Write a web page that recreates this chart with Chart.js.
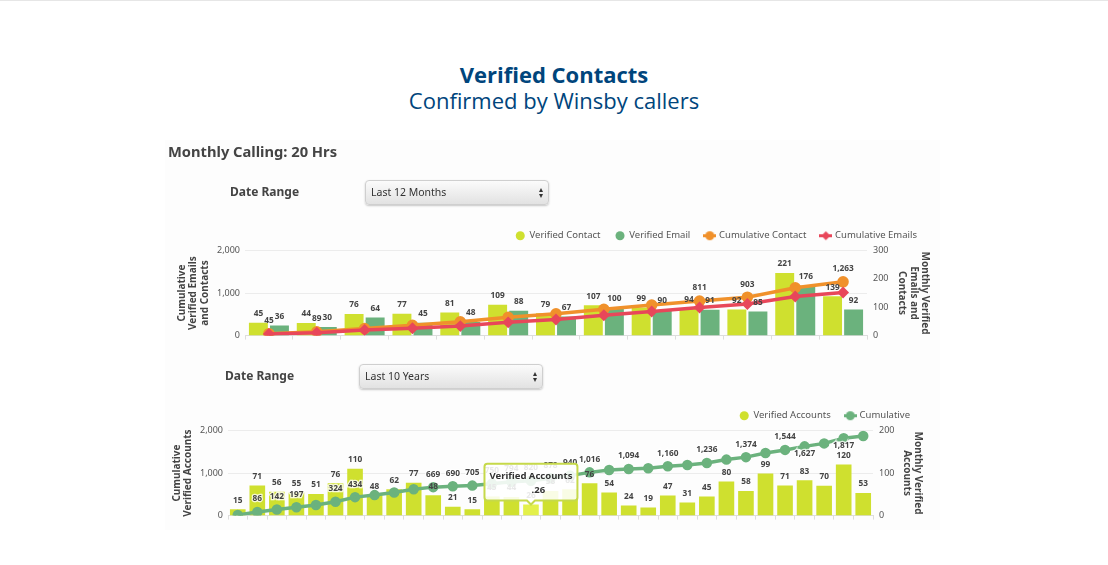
<!DOCTYPE html>
<html><head><meta charset="utf-8">
<script src="https://cdn.jsdelivr.net/npm/chart.js@4"></script>
<style>
html,body{margin:0;padding:0;background:#fff;}
body{width:1108px;height:565px;position:relative;overflow:hidden;font-family:"Noto Sans",sans-serif;}
#topline{position:absolute;left:0;top:0;width:1108px;height:1px;background:#e6e6e6;}
#t1,#t2{position:absolute;left:0;width:1108px;text-align:center;color:#00457c;font-family:"Open Sans",sans-serif;font-size:22px;line-height:28px;}
#t1{top:60px;font-weight:700;}#t2{top:86px;}
#panel{position:absolute;left:165px;top:140px;width:775px;height:390px;background:#fdfdfd;}
.h{position:absolute;color:#444;font-weight:700;white-space:nowrap;filter:blur(.3px);}
.sel{position:absolute;width:184px;height:25px;box-sizing:border-box;border:1px solid #cfcfcf;border-radius:4px;background:linear-gradient(#fbfbfb,#e2e2e2);box-shadow:0 1px 2px rgba(0,0,0,.22);font-size:10.5px;line-height:23px;padding-left:5px;color:#333;filter:blur(.3px);}
.sel:before,.sel:after{content:"";position:absolute;right:5px;border-left:2.5px solid transparent;border-right:2.5px solid transparent;}
.sel:before{top:7px;border-bottom:4px solid #333;}
.sel:after{top:13px;border-top:4px solid #333;}
.box{position:absolute;left:165px;width:775px;height:132px;filter:blur(.35px);}
</style></head><body>
<div id="topline"></div>
<div id="panel"></div>
<div id="t1">Verified Contacts</div>
<div id="t2">Confirmed by Winsby callers</div>
<div class="h" style="left:168px;top:141px;font-size:14.7px;line-height:20px;">Monthly Calling: 20 Hrs</div>
<div class="h" style="left:230px;top:183px;font-size:12px;line-height:18px;">Date Range</div>
<div class="sel" style="left:365px;top:180px;">Last 12 Months</div>
<div class="h" style="left:225px;top:367px;font-size:12px;line-height:18px;">Date Range</div>
<div class="sel" style="left:359px;top:364px;">Last 10 Years</div>
<div class="box" style="top:215px;"><canvas id="c1"></canvas></div>
<div class="box" style="top:395px;"><canvas id="c2"></canvas></div>
<script>
const months=["1","2","3","4","5","6","7","8","9","10","11","12","13"];
const verifiedContact=[45,44,76,77,81,109,79,107,99,94,92,221,139];
const verifiedEmail=[36,30,64,45,48,88,67,100,90,91,85,176,92];
const cumulativeContact=[45,89,165,242,323,432,511,618,717,811,903,1124,1263];
const cumulativeEmails=[36,66,130,175,223,311,378,478,568,659,744,920,1012];
const shownContactTotals=[0,1,9,10,12];
const periods=["1","2","3","4","5","6","7","8","9","10","11","12","13","14","15","16","17","18","19","20","21","22","23","24","25","26","27","28","29","30","31","32","33"];
const verifiedAccounts=[15,71,56,55,51,76,110,48,62,77,48,21,15,45,44,26,58,62,76,54,24,19,47,31,45,80,58,99,71,83,70,120,53];
const cumulativeAccounts=[15,86,142,197,248,324,434,482,544,621,669,690,705,750,794,820,878,940,1016,1070,1094,1113,1160,1191,1236,1316,1374,1473,1544,1627,1697,1817,1870];
const shownAccountsAbove=[1,2,3,5,6,10,11,12,13,14,15,16,17,18,20,22,24,26,28];
const shownAccountsBelow=[29,31];

const LIME='#cfe02f',GREEN='#6bb27d',ORANGE='#f0912b',RED='#e8475a',TXT='#555',LBL='#444';
const FONT='"Noto Sans",sans-serif';
Chart.defaults.animation=false;
Chart.defaults.font.family=FONT;

function lineMarker(color,diamond){
  const c=document.createElement('canvas');
  c.width=13;c.height=11;const g=c.getContext('2d');
  g.fillStyle=color;g.fillRect(0,4,13,3);g.beginPath();
  if(diamond){g.moveTo(6.5,1);g.lineTo(11,5.5);g.lineTo(6.5,10);g.lineTo(2,5.5);g.closePath();}
  else g.arc(6.5,5.5,4.5,0,Math.PI*2);
  g.fill();return c;
}
const labelStyles=(chart)=>{
  const base=Chart.defaults.plugins.legend.labels.generateLabels(chart);
  base.forEach(l=>{
    const ds=chart.data.datasets[l.datasetIndex];
    if(ds.type==='line')l.pointStyle=lineMarker(ds.borderColor,ds.borderColor===RED);
  });
  return base;
};

function makeLabelPlugin(items,legendRight){return {id:'valueLabels',
  afterLayout(chart){ if(chart.legend) chart.legend.right=legendRight; },
  afterDatasetsDraw(chart){
    const ctx=chart.ctx;ctx.save();ctx.font='700 8.3px '+FONT;ctx.textAlign='center';ctx.textBaseline='middle';
    items.forEach(it=>{
      const meta=chart.getDatasetMeta(it.dataset);
      meta.data.forEach((el,i)=>{
        const off=it.place(i);
        if(off===null)return;
        const txt=chart.data.datasets[it.dataset].data[i].toLocaleString('en-US');
        const y=el.y-off;
        if(it.halo){ctx.lineWidth=2.5;ctx.strokeStyle='rgba(255,255,255,.8)';ctx.strokeText(txt,el.x,y);}
        ctx.fillStyle=LBL;ctx.fillText(txt,el.x,y);
      });
    });
    ctx.restore();
  }};}

function axes(leftTitle,rightTitle,rightMax,rightStep,lw,rw,lp,rp){
  const tickFont={size:9};
  return {
    x:{afterFit:s=>{s.height=5;},grid:{display:true,drawOnChartArea:false,color:'#ddd',tickLength:4,offset:true},border:{color:'#ddd'},ticks:{display:false}},
    yL:{position:'left',min:0,max:2000,afterFit:s=>{s.width=lw;},grid:{color:'#ececec',tickLength:0},border:{display:false},
      ticks:{stepSize:1000,color:TXT,font:tickFont,padding:5,callback:v=>v.toLocaleString('en-US')},
      title:{display:true,text:leftTitle,color:LBL,font:{size:10,weight:'700',lineHeight:1.15},padding:{top:lp,bottom:0}}},
    yR:{position:'right',min:0,max:rightMax,afterFit:s=>{s.width=rw;},grid:{display:false,drawTicks:false},border:{display:false},
      ticks:{stepSize:rightStep,color:TXT,font:tickFont,padding:6},
      title:{display:true,text:rightTitle,color:LBL,font:{size:10,weight:'700',lineHeight:1.15},padding:{top:rp,bottom:0}}}
  };
}
function legend(){return {position:'top',align:'end',labels:{usePointStyle:true,boxWidth:9,boxHeight:6.4,padding:15,color:'#555',font:{size:9.5},
  sort:(a,b)=>a.datasetIndex-b.datasetIndex,generateLabels:labelStyles}};}

new Chart(document.getElementById('c1'),{
  type:'bar',
  data:{labels:months,datasets:[
    {label:'Verified Contact',data:verifiedContact,yAxisID:'yR',backgroundColor:LIME,pointStyle:'circle',order:3,barPercentage:.9,categoryPercentage:.88},
    {label:'Verified Email',data:verifiedEmail,yAxisID:'yR',backgroundColor:GREEN,pointStyle:'circle',order:3,barPercentage:.9,categoryPercentage:.88},
    {type:'line',label:'Cumulative Contact',data:cumulativeContact,yAxisID:'yL',borderColor:ORANGE,backgroundColor:ORANGE,borderWidth:3.5,pointRadius:4,pointStyle:'circle',order:2,tension:0},
    {type:'line',label:'Cumulative Emails',data:cumulativeEmails,yAxisID:'yL',borderColor:RED,backgroundColor:RED,borderWidth:3.5,pointRadius:3.5,pointStyle:'rectRot',order:1,tension:0}
  ]},
  options:{responsive:true,maintainAspectRatio:false,layout:{padding:{top:1}},
    scales:axes(['Cumulative','Verified Emails','and Contacts'],['Monthly Verified','Emails and','Contacts'],300,100,80,73,11,9),
    plugins:{legend:legend(),tooltip:{enabled:false}}
  },plugins:[makeLabelPlugin([
    {dataset:0,place:()=>9},{dataset:1,place:()=>9},
    {dataset:2,place:i=>shownContactTotals.includes(i)?13:null}
  ],767)]
});

const chart2=new Chart(document.getElementById('c2'),{
  type:'bar',
  data:{labels:periods,datasets:[
    {label:'Verified Accounts',data:verifiedAccounts,yAxisID:'yR',backgroundColor:LIME,hoverBackgroundColor:'#e3f04a',pointStyle:'circle',order:2,barPercentage:.8,categoryPercentage:1},
    {type:'line',label:'Cumulative',data:cumulativeAccounts,yAxisID:'yL',borderColor:GREEN,backgroundColor:GREEN,borderWidth:3.5,pointRadius:3.5,pointStyle:'circle',order:1,tension:0}
  ]},
  options:{responsive:true,maintainAspectRatio:false,layout:{padding:{top:1}},
    scales:axes(['Cumulative','Verified Accounts'],['Monthly Verified','Accounts'],200,100,63,67,6,16),
    plugins:{legend:legend(),
      tooltip:{enabled:true,backgroundColor:'rgba(255,255,255,.88)',borderColor:'#c6d94a',borderWidth:2,cornerRadius:3,
        titleColor:'#333',titleFont:{size:9.5,weight:'700'},titleAlign:'center',titleMarginBottom:2,bodyColor:'#333',bodyFont:{size:9.5,weight:'700'},bodyAlign:'center',
        displayColors:false,caretSize:4,caretPadding:0,padding:{left:5,right:5,top:7,bottom:5},yAlign:'bottom',
        callbacks:{title:()=>'Verified Accounts',label:c=>'\u00a0\u00a0\u00a0\u00a0\u00a0\u00a0.'+c.raw}}}
  },plugins:[makeLabelPlugin([
    {dataset:0,place:()=>9},
    {dataset:1,halo:true,place:i=>shownAccountsAbove.includes(i)?13:(shownAccountsBelow.includes(i)?-7:null)}
  ],760)]
});
const hi=verifiedAccounts.indexOf(26);
chart2.setActiveElements([{datasetIndex:0,index:hi}]);
chart2.tooltip.setActiveElements([{datasetIndex:0,index:hi}],{x:0,y:0});
chart2.render();
</script>
</body></html>
